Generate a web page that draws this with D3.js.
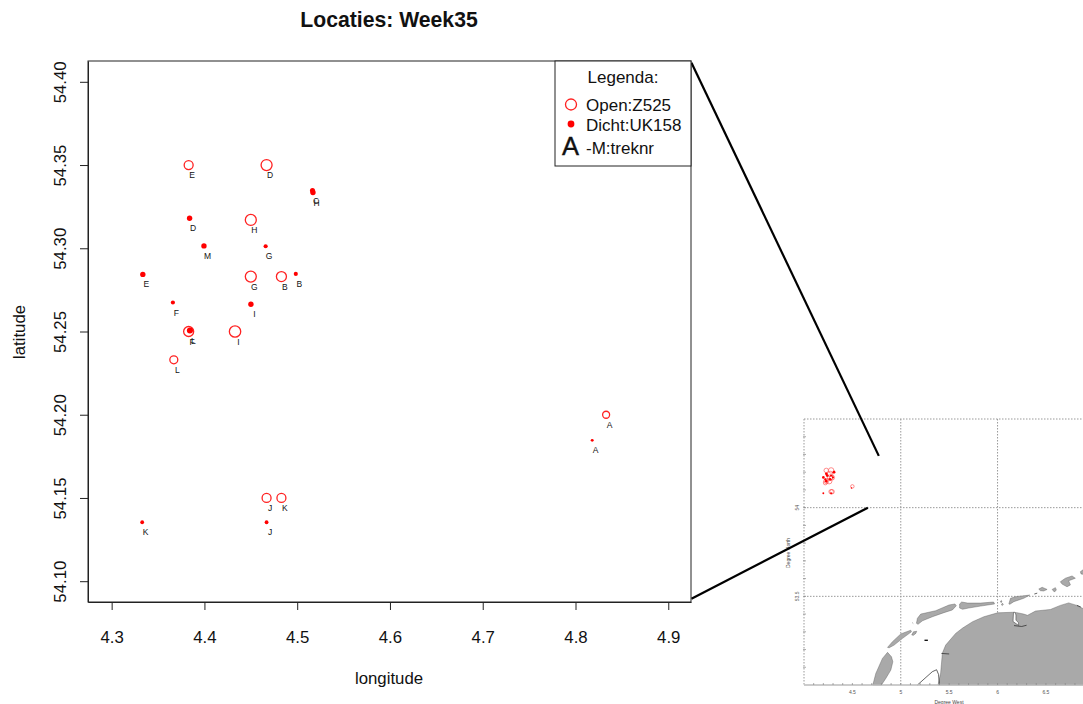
<!DOCTYPE html>
<html>
<head>
<meta charset="utf-8">
<title>Locaties: Week35</title>
<script src="https://cdn.jsdelivr.net/npm/d3@7"></script>
<style>
  html, body { margin: 0; padding: 0; background: #fff; overflow: hidden; }
  svg { display: block; }
  text { font-family: "Liberation Sans", Arial, sans-serif; fill: #111; }
</style>
</head>
<body>
<svg id="chart" width="1083" height="704"></svg>
<script>
// Z525 stations (open circles)
const openLabels = ["A", "B", "D", "E", "F", "G", "H", "I", "J", "K", "L"];
const openLon = [4.833, 4.483, 4.467, 4.383, 4.383, 4.45, 4.45, 4.433, 4.467, 4.483, 4.367];
const openLat = [54.2, 54.283, 54.35, 54.35, 54.25, 54.283, 54.317, 54.25, 54.15, 54.15, 54.233];
const openCatch = [34, 70, 84, 56, 70, 84, 84, 90, 56, 56, 44];

// UK158 stations (filled circles)
const closedLabels = ["A", "B", "C", "D", "E", "F", "G", "H", "I", "J", "K", "L", "M"];
const closedLon = [4.818, 4.4985, 4.5165, 4.384, 4.3336, 4.366, 4.466, 4.517, 4.4501, 4.467, 4.3329, 4.3844, 4.3995];
const closedLat = [54.1846, 54.2846, 54.3347, 54.318, 54.2843, 54.2674, 54.3012, 54.3335, 54.2664, 54.1354, 54.1354, 54.2506, 54.3014];
const closedCatch = [6, 12, 18, 20, 20, 12, 12, 20, 20, 10, 10, 26, 20];

const xTicks = [4.3, 4.4, 4.5, 4.6, 4.7, 4.8, 4.9];
const yTicks = [54.10, 54.15, 54.20, 54.25, 54.30, 54.35, 54.40];

// kaart: lon/lat outlines
const mainland = [[5.385, 53.0], [5.412, 53.067], [5.43, 53.18], [5.464, 53.225], [5.567, 53.291], [5.639, 53.321],
  [5.742, 53.357], [5.859, 53.385], [6.0, 53.407], [6.152, 53.41], [6.2, 53.408], [6.27, 53.4], [6.31, 53.393],
  [6.392, 53.417], [6.546, 53.426], [6.649, 53.449], [6.735, 53.463], [6.82, 53.449],
  [6.887, 53.43], [7.1, 53.43], [7.1, 53.0]];
const islands = [
  [[4.711, 53.0], [4.742, 53.065], [4.811, 53.15], [4.863, 53.184], [4.904, 53.159], [4.918, 53.131], [4.897, 53.084], [4.845, 53.037], [4.8, 53.0]],
  [[4.863, 53.212], [4.914, 53.244], [5.0, 53.288], [5.103, 53.309], [5.11, 53.3], [5.018, 53.263], [4.931, 53.225], [4.88, 53.21]],
  [[5.113, 53.282], [5.131, 53.3], [5.165, 53.303], [5.155, 53.291], [5.131, 53.28]],
  [[5.162, 53.348], [5.172, 53.376], [5.206, 53.4], [5.361, 53.419], [5.498, 53.451], [5.56, 53.457], [5.574, 53.447], [5.533, 53.423], [5.446, 53.408], [5.327, 53.385], [5.224, 53.362], [5.178, 53.342]],
  [[5.608, 53.457], [5.629, 53.468], [5.691, 53.462], [5.825, 53.462], [5.959, 53.468], [5.969, 53.457], [5.825, 53.445], [5.701, 53.434], [5.639, 53.427], [5.608, 53.434]],
  [[6.117, 53.457], [6.134, 53.489], [6.186, 53.498], [6.333, 53.507], [6.271, 53.489], [6.168, 53.47], [6.127, 53.455]],
  [[6.04, 53.452], [6.05, 53.461], [6.06, 53.455], [6.05, 53.448]],
  [[6.03, 53.472], [6.04, 53.477], [6.045, 53.468], [6.035, 53.465]],
  [[6.426, 53.541], [6.461, 53.551], [6.512, 53.539], [6.477, 53.53], [6.443, 53.532]],
  [[6.564, 53.539], [6.598, 53.549], [6.608, 53.536], [6.588, 53.524]],
  [[6.649, 53.582], [6.701, 53.602], [6.77, 53.615], [6.804, 53.602], [6.735, 53.588], [6.753, 53.564], [6.718, 53.554], [6.667, 53.569]],
  [[6.856, 53.639], [6.92, 53.664], [6.92, 53.62], [6.863, 53.626]]
];
const inlet = [[6.165, 53.41], [6.16, 53.358], [6.218, 53.336], [6.215, 53.352], [6.19, 53.366], [6.19, 53.395], [6.18, 53.41]];
const coastLines = [
  [[5.172, 53.0], [5.326, 53.075], [5.37, 53.086], [5.39, 53.06], [5.4, 53.0]],
  [[5.42, 53.178], [5.5, 53.175]],
  [[5.122, 53.35], [5.128, 53.347]],
  [[6.38, 53.513], [6.41, 53.518]],
  [[6.82, 53.449], [6.86, 53.44]],
  [[6.17, 53.335], [6.25, 53.33], [6.3, 53.337]]
];
const harbourDash = [[5.245, 53.252], [5.28, 53.252]];

// zoomlijnen van hoofdplot naar kaart
const zoomFrom = [[4.925, 54.4115], [4.925, 54.0895]];
const zoomTo = [[4.773, 54.292], [4.66, 54.0]];

const svg = d3.select("#chart");

// hoofdplot schalen
const x = d3.scaleLinear().domain([4.2745, 4.9245]).range([88, 691]);
const y = d3.scaleLinear().domain([54.0875, 54.4125]).range([602, 61]);
const r = d3.scaleSqrt().domain([0, 100]).range([0, 6]);

// kaart schalen
const mapX = d3.scaleLinear().domain([4, 7.1]).range([804, 1104]);
const mapY = d3.scaleLinear().domain([53, 54.5]).range([685, 419]);

// decimal degrees -> deg.min, the inset plots them that way
const toDegMin = v => Math.floor(v) + (v - Math.floor(v)) * 0.6;

const openPts = openLabels.map((label, i) => ({ label, lon: openLon[i], lat: openLat[i], n: openCatch[i] }));
const closedPts = closedLabels.map((label, i) => ({ label, lon: closedLon[i], lat: closedLat[i], n: closedCatch[i] }));

const drawInset = () => {
  const g = svg.append("g").attr("class", "inset");
  const line = d3.line().x(d => mapX(d[0])).y(d => mapY(d[1]));

  // raster, onder het land
  const grid = g.append("g")
    .attr("stroke", "#999")
    .attr("stroke-width", 1)
    .attr("stroke-dasharray", "1.5 1.5");
  grid.selectAll("line.v").data([5, 6]).join("line").attr("class", "v")
    .attr("x1", d => mapX(d)).attr("x2", d => mapX(d))
    .attr("y1", mapY(54.5)).attr("y2", mapY(53));
  grid.selectAll("line.h").data([53.5, 54]).join("line").attr("class", "h")
    .attr("x1", mapX(4)).attr("x2", mapX(7.1))
    .attr("y1", d => mapY(d)).attr("y2", d => mapY(d));
  grid.append("line").attr("x1", mapX(4)).attr("x2", mapX(7.1)).attr("y1", mapY(54.5)).attr("y2", mapY(54.5));
  grid.append("line").attr("x1", mapX(4)).attr("x2", mapX(4)).attr("y1", mapY(54.5)).attr("y2", mapY(53));

  g.selectAll("path.land")
    .data([mainland, ...islands])
    .join("path")
    .attr("class", "land")
    .attr("d", d => line(d) + "Z")
    .attr("fill", "#a9a9a9")
    .attr("stroke", "#555")
    .attr("stroke-width", 0.4);

  g.append("path")
    .attr("d", line(inlet) + "Z")
    .attr("fill", "#fff")
    .attr("stroke", "#333")
    .attr("stroke-width", 0.5);

  g.selectAll("path.coast")
    .data(coastLines)
    .join("path")
    .attr("class", "coast")
    .attr("d", line)
    .attr("fill", "none")
    .attr("stroke", "#222")
    .attr("stroke-width", 0.7);

  g.append("path")
    .attr("d", line(harbourDash))
    .attr("fill", "none")
    .attr("stroke", "#111")
    .attr("stroke-width", 1.4);

  g.append("line")
    .attr("x1", mapX(4)).attr("x2", mapX(7.1))
    .attr("y1", mapY(53)).attr("y2", mapY(53))
    .attr("stroke", "#bbb").attr("stroke-width", 1.4);

  // kleine ticks
  g.selectAll("line.xminor")
    .data(d3.range(41, 70).map(d => d / 10))
    .join("line").attr("class", "xminor")
    .attr("x1", d => mapX(d)).attr("x2", d => mapX(d))
    .attr("y1", mapY(53) - 2).attr("y2", mapY(53))
    .attr("stroke", "#888").attr("stroke-width", 0.7);
  g.selectAll("line.yminor")
    .data(d3.range(531, 545).map(d => d / 10))
    .join("line").attr("class", "yminor")
    .attr("x1", mapX(4) - 1).attr("x2", mapX(4) + 2)
    .attr("y1", d => mapY(d)).attr("y2", d => mapY(d))
    .attr("stroke", "#888").attr("stroke-width", 0.7);

  g.selectAll("text.xlab")
    .data([4.5, 5, 5.5, 6, 6.5])
    .join("text").attr("class", "xlab")
    .attr("x", d => mapX(d)).attr("y", 694)
    .attr("text-anchor", "middle")
    .style("font-size", "5px")
    .style("fill", "#555")
    .text(d => d);
  g.selectAll("text.ylab")
    .data([53.5, 54])
    .join("text").attr("class", "ylab")
    .attr("transform", d => `translate(799,${mapY(d)}) rotate(-90)`)
    .attr("text-anchor", "middle")
    .style("font-size", "5px")
    .style("fill", "#555")
    .text(d => d);
  g.append("text")
    .attr("x", 949).attr("y", 704)
    .attr("text-anchor", "middle")
    .style("font-size", "5px")
    .style("fill", "#444")
    .text("Degree West");
  g.append("text")
    .attr("transform", "translate(790,553) rotate(-90)")
    .attr("text-anchor", "middle")
    .style("font-size", "5px")
    .style("fill", "#444")
    .text("Degree North");

  // stations op de kaart
  g.selectAll("circle.open")
    .data(openPts)
    .join("circle").attr("class", "open")
    .attr("cx", d => mapX(toDegMin(d.lon)))
    .attr("cy", d => mapY(toDegMin(d.lat)))
    .attr("r", d => r(d.n) * 0.5)
    .attr("fill", "none")
    .attr("stroke", "#f44")
    .attr("stroke-width", 0.6);
  g.selectAll("circle.closed")
    .data(closedPts)
    .join("circle").attr("class", "closed")
    .attr("cx", d => mapX(toDegMin(d.lon)))
    .attr("cy", d => mapY(toDegMin(d.lat)))
    .attr("r", d => r(d.n) * 0.5)
    .attr("fill", "#f00");
};

const drawMain = () => {
  const g = svg.append("g").attr("class", "main");

  g.append("rect")
    .attr("x", x.range()[0]).attr("y", y.range()[1])
    .attr("width", x.range()[1] - x.range()[0])
    .attr("height", y.range()[0] - y.range()[1])
    .attr("fill", "#fff")
    .attr("stroke", "#222")
    .attr("stroke-width", 1);

  const xAxis = g.append("g")
    .attr("transform", `translate(0,${y.range()[0]})`)
    .call(d3.axisBottom(x).tickValues(xTicks).tickSize(8).tickSizeOuter(0).tickPadding(30).tickFormat(d3.format(".1f")));
  xAxis.selectAll("text").style("font-size", "16.8px").attr("dy", "0.2em");

  const yAxis = g.append("g")
    .attr("transform", `translate(${x.range()[0]},0)`)
    .call(d3.axisLeft(y).tickValues(yTicks).tickSize(8).tickSizeOuter(0).tickFormat(d3.format(".2f")));
  yAxis.selectAll("text")
    .style("font-size", "16.8px")
    .attr("text-anchor", "middle")
    .attr("dy", null)
    .attr("x", null)
    .attr("transform", "translate(-22,0) rotate(-90)");

  g.selectAll(".domain, .tick line").attr("stroke", "#222");

  g.selectAll("circle.open")
    .data(openPts)
    .join("circle").attr("class", "open")
    .attr("cx", d => x(d.lon))
    .attr("cy", d => y(d.lat))
    .attr("r", d => r(d.n))
    .attr("fill", "none")
    .attr("stroke", "#f22")
    .attr("stroke-width", 1.3);

  g.selectAll("circle.closed")
    .data(closedPts)
    .join("circle").attr("class", "closed")
    .attr("cx", d => x(d.lon))
    .attr("cy", d => y(d.lat))
    .attr("r", d => r(d.n))
    .attr("fill", "#f00");

  // treknummers onder de punten
  g.selectAll("text.trek")
    .data([...openPts, ...closedPts])
    .join("text").attr("class", "trek")
    .attr("x", d => x(d.lon) + 3.5)
    .attr("y", d => y(d.lat) + 13)
    .attr("text-anchor", "middle")
    .style("font-size", "8.5px")
    .text(d => d.label);

  g.append("text")
    .attr("x", 389).attr("y", 27)
    .attr("text-anchor", "middle")
    .style("font-size", "21.2px")
    .style("font-weight", "bold")
    .text("Locaties: Week35");
  g.append("text")
    .attr("x", 389).attr("y", 684)
    .attr("text-anchor", "middle")
    .style("font-size", "16.8px")
    .text("longitude");
  g.append("text")
    .attr("transform", "translate(25,332) rotate(-90)")
    .attr("text-anchor", "middle")
    .style("font-size", "16.8px")
    .text("latitude");
};

const drawLegend = () => {
  const g = svg.append("g").attr("class", "legend");
  g.append("rect")
    .attr("x", 555).attr("y", 61)
    .attr("width", 136).attr("height", 105)
    .attr("fill", "#fff")
    .attr("stroke", "#222")
    .attr("stroke-width", 1);
  g.append("text")
    .attr("x", 623).attr("y", 83)
    .attr("text-anchor", "middle")
    .style("font-size", "17px")
    .text("Legenda:");
  g.append("circle")
    .attr("cx", 571).attr("cy", 104.5).attr("r", r(84))
    .attr("fill", "none").attr("stroke", "#f22").attr("stroke-width", 1.3);
  g.append("circle")
    .attr("cx", 571).attr("cy", 124).attr("r", 3.4)
    .attr("fill", "#f00");
  g.append("text")
    .attr("x", 570.5).attr("y", 155)
    .attr("text-anchor", "middle")
    .style("font-size", "25.5px")
    .style("stroke", "#111")
    .style("stroke-width", 0.4)
    .text("A");
  g.selectAll("text.item")
    .data(["Open:Z525", "Dicht:UK158", "-M:treknr"])
    .join("text").attr("class", "item")
    .attr("x", 586)
    .attr("y", (d, i) => [111, 131, 154][i])
    .style("font-size", "17px")
    .text(d => d);
};

// volgorde: kaart, zoomlijnen, dan hoofdplot erover
drawInset();

svg.selectAll("line.zoom")
  .data(zoomFrom.map((d, i) => [d, zoomTo[i]]))
  .join("line").attr("class", "zoom")
  .attr("x1", d => x(d[0][0]))
  .attr("y1", d => y(d[0][1]))
  .attr("x2", d => mapX(d[1][0]))
  .attr("y2", d => mapY(d[1][1]))
  .attr("stroke", "#000")
  .attr("stroke-width", 2.2);

drawMain();
drawLegend();
</script>
</body>
</html>
